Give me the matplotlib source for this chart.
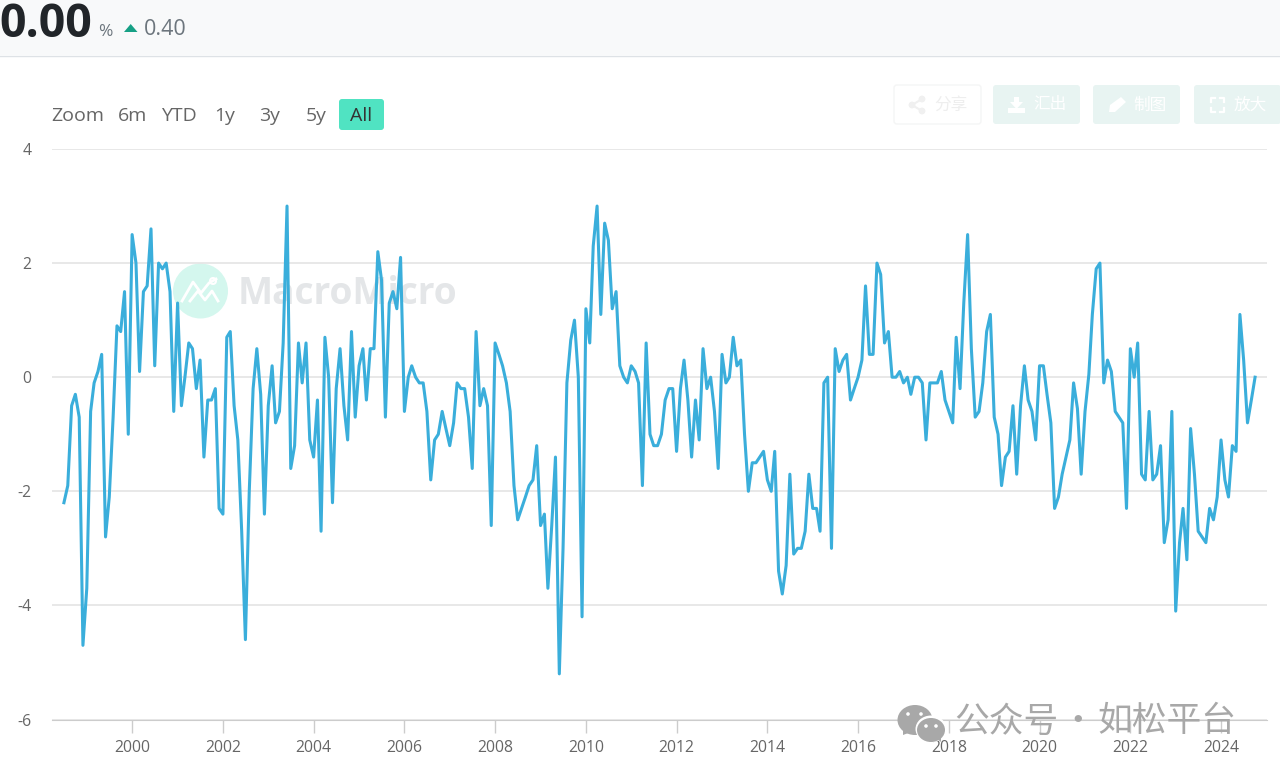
import matplotlib
matplotlib.use("Agg")
import matplotlib.pyplot as plt
import pandas as pd
from matplotlib.patches import Circle, Ellipse, FancyBboxPatch, Polygon, Rectangle

plt.rcParams["font.family"] = ["Open Sans", "Noto Sans CJK SC", "DejaVu Sans"]
plt.rcParams["axes.unicode_minus"] = False

# monthly readings, first one is Jul 1998
values = [
    -2.2, -1.9, -0.5, -0.3, -0.7, -4.7, -3.7, -0.6, -0.1, 0.1, 0.4, -2.8,
    -2.1, -0.7, 0.9, 0.8, 1.5, -1.0, 2.5, 2.0, 0.1, 1.5, 1.6, 2.6,
    0.2, 2.0, 1.9, 2.0, 1.5, -0.6, 1.3, -0.5, 0.0, 0.6, 0.5, -0.2,
    0.3, -1.4, -0.4, -0.4, -0.2, -2.3, -2.4, 0.7, 0.8, -0.5, -1.1, -2.7,
    -4.6, -2.0, -0.2, 0.5, -0.3, -2.4, -0.5, 0.2, -0.8, -0.6, 0.6, 3.0,
    -1.6, -1.2, 0.6, -0.1, 0.6, -1.1, -1.4, -0.4, -2.7, 0.7, 0.0, -2.2,
    -0.2, 0.5, -0.5, -1.1, 0.8, -0.7, 0.2, 0.5, -0.4, 0.5, 0.5, 2.2,
    1.7, -0.7, 1.3, 1.5, 1.2, 2.1, -0.6, 0.0, 0.2, 0.0, -0.1, -0.1,
    -0.6, -1.8, -1.1, -1.0, -0.6, -0.9, -1.2, -0.8, -0.1, -0.2, -0.2, -0.7,
    -1.6, 0.8, -0.5, -0.2, -0.5, -2.6, 0.6, 0.4, 0.2, -0.1, -0.6, -1.9,
    -2.5, -2.3, -2.1, -1.9, -1.8, -1.2, -2.6, -2.4, -3.7, -2.6, -1.4, -5.2,
    -3.0, -0.1, 0.65, 1.0, 0.0, -4.2, 1.2, 0.6, 2.3, 3.0, 1.1, 2.7,
    2.4, 1.2, 1.5, 0.2, 0.0, -0.1, 0.2, 0.1, -0.1, -1.9, 0.6, -1.0,
    -1.2, -1.2, -1.0, -0.4, -0.2, -0.2, -1.3, -0.2, 0.3, -0.4, -1.4, -0.4,
    -1.1, 0.5, -0.2, 0.0, -0.6, -1.6, 0.4, -0.1, 0.0, 0.7, 0.2, 0.3,
    -1.0, -2.0, -1.5, -1.5, -1.4, -1.3, -1.8, -2.0, -1.3, -3.4, -3.8, -3.3,
    -1.7, -3.1, -3.0, -3.0, -2.7, -1.7, -2.3, -2.3, -2.7, -0.1, 0.0, -3.0,
    0.5, 0.1, 0.3, 0.4, -0.4, -0.2, 0.0, 0.3, 1.6, 0.4, 0.4, 2.0,
    1.8, 0.6, 0.8, 0.0, 0.0, 0.1, -0.1, 0.0, -0.3, 0.0, 0.0, -0.1,
    -1.1, -0.1, -0.1, -0.1, 0.1, -0.4, -0.6, -0.8, 0.7, -0.2, 1.3, 2.5,
    0.5, -0.7, -0.6, -0.1, 0.8, 1.1, -0.7, -1.0, -1.9, -1.4, -1.3, -0.5,
    -1.7, -0.5, 0.2, -0.4, -0.6, -1.1, 0.2, 0.2, -0.3, -0.8, -2.3, -2.1,
    -1.7, -1.4, -1.1, -0.1, -0.55, -1.7, -0.6, 0.05, 1.1, 1.9, 2.0, -0.1,
    0.3, 0.1, -0.6, -0.7, -0.8, -2.3, 0.5, 0.0, 0.6, -1.7, -1.8, -0.6,
    -1.8, -1.7, -1.2, -2.9, -2.5, -0.6, -4.1, -2.9, -2.3, -3.2, -0.9, -1.7,
    -2.7, -2.8, -2.9, -2.3, -2.5, -2.1, -1.1, -1.8, -2.1, -1.2, -1.3, 1.1,
    0.3, -0.8, -0.4, 0.0,
]
dates = pd.date_range("1998-07-01", periods=len(values), freq="MS")
y_ticks = [4, 2, 0, -2, -4, -6]
x_years = list(range(2000, 2026, 2))
range_labels = ["Zoom", "6m", "YTD", "1y", "3y", "5y", "All"]
range_x = [78, 133, 179, 225, 270, 316, 361]
button_labels = ["分享", "汇出", "制图", "放大"]
button_left = [894, 993, 1093, 1194]

W, H = 1280, 775
fig = plt.figure(figsize=(W / 100, H / 100), dpi=100)

# page layer in pixel coordinates for header, buttons, watermark
bg = fig.add_axes([0, 0, 1, 1], zorder=0)
bg.set_xlim(0, W)
bg.set_ylim(H, 0)
bg.axis("off")

bg.add_patch(Rectangle((0, 0), W, 55, fc="#f8f9fa", ec="none"))
bg.plot([0, W], [55.5, 55.5], color="#dee2e6", lw=1)
bg.text(-1, 37, "0.00", fontsize=33.5, fontweight="bold", color="#212529", va="baseline")
bg.text(98, 36, "%", fontsize=12.5, color="#6c757d", va="baseline")
bg.add_patch(Polygon([[124, 32], [137.5, 32], [130.7, 24]], fc="#16a085", ec="none"))
bg.text(144, 35, "0.40", fontsize=15.5, color="#6c757d", va="baseline")

bg.add_patch(FancyBboxPatch((341, 101), 41, 27, boxstyle="round,pad=2,rounding_size=3",
                            fc="#50e3c2", ec="none"))
for lab, x in zip(range_labels, range_x):
    col = "#333333" if lab == "All" else "#666666"
    bg.text(x, 116, lab, fontsize=14, color=col, ha="center", va="center")

# export buttons, mostly washed out
for i, (lab, x) in enumerate(zip(button_labels, button_left)):
    first = i == 0
    bg.add_patch(FancyBboxPatch((x + 2, 87), 83, 35, boxstyle="round,pad=2,rounding_size=3",
                                fc="white" if first else "#e8f4f2",
                                ec="#f4f5f5" if first else "none", lw=1))
    bg.text(x + 40, 105, lab, fontsize=12, color="#eeeeee" if first else "white",
            ha="left", va="center", family=["Noto Sans CJK SC", "DejaVu Sans"])
# share
for cx, cy in [(922, 99), (912, 105), (922, 111)]:
    bg.add_patch(Circle((cx, cy), 3.4, fc="#f0f0f0", ec="none"))
bg.plot([922, 912, 922], [99, 105, 111], color="#f0f0f0", lw=1.5)
# download
bg.add_patch(Polygon([[1014, 97], [1019, 97], [1019, 102], [1023, 102], [1016.5, 109],
                      [1010, 102], [1014, 102]], fc="white", ec="none"))
bg.add_patch(Rectangle((1008, 108), 17, 5, fc="white", ec="none"))
# pencil
bg.add_patch(Polygon([[1109, 112], [1110, 105], [1121, 97], [1126, 102], [1115, 112]],
                     fc="white", ec="none"))
# full screen corners
for cx, cy, dx, dy in [(1211, 98, 1, 1), (1224, 98, -1, 1), (1211, 112, 1, -1), (1224, 112, -1, -1)]:
    bg.plot([cx + 4 * dx, cx, cx], [cy, cy, cy + 4 * dy], color="white", lw=1.6)

# MacroMicro logo under the line
bg.add_patch(Circle((200.5, 291), 27.5, fc="#d4f7ee", ec="none"))
bg.plot([182, 193, 201, 209, 216], [301, 282, 293, 283, 279], color="white", lw=2)
bg.plot([190, 198, 205, 212, 218], [301, 291, 300, 291, 301], color="white", lw=2)
bg.add_patch(Circle((213, 281), 3, fc="#d4f7ee", ec="white", lw=1.5))
bg.text(238, 294, "MacroMicro", fontsize=26.7, fontweight="bold", color="#e4e6e8", va="center")

# chart layer
left, right, top, bottom = 52, 1267, 149, 719.5
ax = fig.add_axes([left / W, 1 - bottom / H, (right - left) / W, (bottom - top) / H], zorder=1)
ax.patch.set_alpha(0)
ax.plot(dates, values, color="#3aaedb", lw=2.2, solid_joinstyle="round", zorder=3)
ax.set_ylim(-6, 4)
ax.set_xlim(pd.Timestamp("1998-03-27"), pd.Timestamp("2025-01-05"))
ax.set_yticks(y_ticks)
ax.set_xticks([pd.Timestamp(f"{y}-01-01") for y in x_years if y < 2025])
ax.set_xticklabels([str(y) for y in x_years if y < 2025])
ax.grid(axis="y", color="#e2e2e2", lw=1.1)
ax.set_axisbelow(True)
for s in ["top", "right", "left"]:
    ax.spines[s].set_visible(False)
ax.spines["bottom"].set_color("#cccccc")
ax.tick_params(axis="y", length=0, pad=15, labelsize=11.3, labelcolor="#666666")
ax.tick_params(axis="x", length=9, width=1, color="#cccccc", pad=6, labelsize=11.3, labelcolor="#666666")

# WeChat mark on top of everything
top_layer = fig.add_axes([0, 0, 1, 1], zorder=2)
top_layer.set_xlim(0, W)
top_layer.set_ylim(H, 0)
top_layer.axis("off")
gray = "#a8a8a8"
top_layer.add_patch(Ellipse((915, 720), 35, 30, fc=gray, ec="none"))
top_layer.add_patch(Polygon([[903, 730], [903, 735], [911, 732]], fc=gray, ec="none"))
top_layer.add_patch(Ellipse((931, 729), 31, 27, fc="white", ec="none"))
top_layer.add_patch(Ellipse((931, 730), 28, 24, fc=gray, ec="none"))
top_layer.add_patch(Polygon([[936, 738], [941, 742], [941, 735]], fc=gray, ec="none"))
for cx, cy in [(908, 714), (921, 714), (926, 726), (936, 726)]:
    top_layer.add_patch(Circle((cx, cy), 1.8, fc="white", ec="none"))
for txt, x, ha in [("公众号", 954, "left"), ("·", 1078, "center"), ("如松平台", 1097, "left")]:
    top_layer.text(x, 722, txt, fontsize=25, color=gray, va="center", ha=ha,
                   family=["Noto Sans CJK SC", "DejaVu Sans"])

fig.savefig("out.png", dpi=100)
